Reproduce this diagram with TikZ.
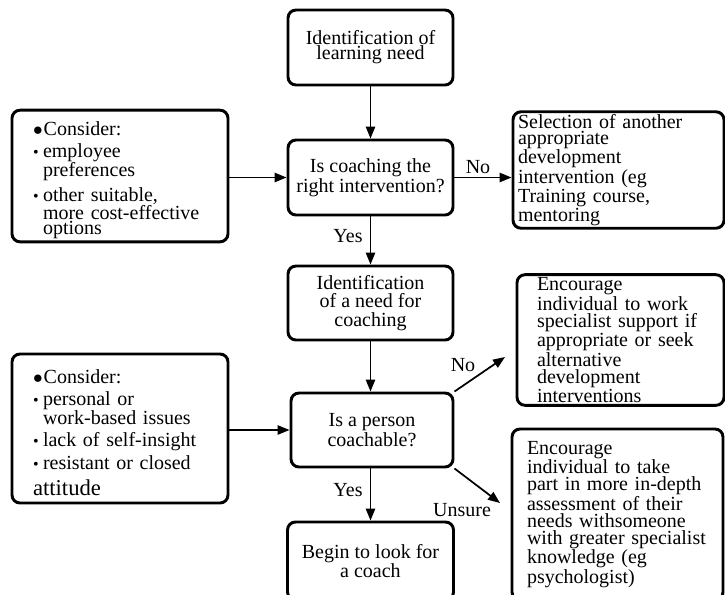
\documentclass[tikz,border=0pt]{standalone}
\usepackage{fontspec}
\setmainfont{Liberation Serif}
\usepackage{tikz}
\usetikzlibrary{arrows.meta}

\newcommand{\bigbul}{\makebox[8pt][l]{$\bullet$}}
\newcommand{\bul}{\makebox[7.5pt][l]{\fontsize{12}{12}\selectfont\textbullet}}
\newcommand{\ind}{\hspace*{7.5pt}}

\begin{document}
\begin{tikzpicture}[
    x=0.75pt, y=-0.75pt,
    flowbox/.style={draw, line width=2.2pt, rounded corners=6pt, align=center,
        font=\fontsize{15}{12}\selectfont, inner sep=2pt},
    sidebox/.style={draw, line width=2.2pt, rounded corners=6pt, align=left,
        font=\fontsize{15}{12.75}\selectfont, inner ysep=2pt},
    lbl/.style={font=\fontsize{15}{15}\selectfont, inner sep=0pt},
    arr/.style={-{Triangle[length=9pt,width=7pt]}, line width=1.3pt}
]
    \useasboundingbox (0,0) rectangle (725,594);
    \clip (0,0) rectangle (725,594);

    % middle column
    \node[flowbox, font=\fontsize{15}{11.25}\selectfont,
        minimum width=123.75pt, minimum height=56.25pt]
        (need) at (370.5,47.5) {Identification of\\learning need};
    \node[flowbox, font=\fontsize{15}{11.5}\selectfont,
        minimum width=123.75pt, minimum height=56.25pt]
        (right) at (370.5,177.5) {Is coaching the\\right intervention?};
    \node[flowbox, font=\fontsize{15}{14}\selectfont,
        minimum width=123.75pt, minimum height=55.5pt]
        (needcoach) at (370.5,303) {Identification\\of a need for\\coaching};
    \node[flowbox, minimum width=121.5pt, minimum height=55.5pt]
        (coachable) at (372,430) {Is a person\\coachable?};
    \node[flowbox, minimum width=124.5pt, minimum height=58.5pt]
        (coach) at (370.5,561) {Begin to look for\\a coach};

    % left column
    \node[sidebox, font=\fontsize{15}{11.25}\selectfont, inner xsep=15.75pt,
        text width=130.5pt, minimum height=96pt] (consider1) at (120,176)
        {\rule{0pt}{17pt}\bigbul Consider:\\[5pt]
         \bul employee\\ \ind preferences\\[3.75pt]
         \bul other suitable,\\ \ind more cost-effective\\ \ind options};
    \node[sidebox, font=\fontsize{15}{10.5}\selectfont, inner xsep=15.75pt,
        text width=130.5pt, minimum height=111.75pt] (consider2) at (120,428.5)
        {\rule{0pt}{17pt}\bigbul Consider:\\[4.5pt]
         \bul personal or\\ \ind work-based issues\\[4.5pt]
         \bul lack of self-insight\\[3pt]
         \bul resistant or closed\\[6.5pt]
         {\fontsize{17}{17}\selectfont attitude}};

    % right column
    \node[sidebox, font=\fontsize{15}{12}\selectfont, inner xsep=3.75pt,
        text width=150.75pt, minimum height=87pt] (other) at (618.5,170)
        {Selection of another\\appropriate\\development\\intervention (eg\\Training course,\\mentoring};
    \node[sidebox, font=\fontsize{15}{13}\selectfont, inner xsep=15pt,
        text width=125.25pt, minimum height=97.5pt] (support) at (620.5,340)
        {Encourage\\individual to work\\specialist support if\\appropriate or seek\\alternative\\development\\interventions};
    \node[sidebox, inner xsep=11.25pt, text width=135.75pt,
        minimum height=128.25pt] (assess) at (617.5,514.5)
        {Encourage\\individual to take\\part in more in-depth\\assessment of their\\needs withsomeone\\with greater specialist\\knowledge (eg\\psychologist)};

    % labels
    \node[lbl] (yes1) at (348,236) {Yes};
    \node[lbl] (no1) at (478,167) {No};
    \node[lbl] (no2) at (463,365) {No};
    \node[lbl] (yes2) at (348,490) {Yes};
    \node[lbl] (unsure) at (462,510) {Unsure};

    \coordinate (noend) at (505,357);
    \coordinate (unsureend) at (500,503);

    % arrows
    \draw[arr] (need.south) -- (need.south |- right.north);
    \draw[arr] (right.south) -- (right.south |- needcoach.north);
    \draw[arr] (needcoach.south) -- (needcoach.south |- coachable.north);
    \draw[arr] (coach.north |- coachable.south) -- (coach.north);
    \draw[arr] (consider1.east |- right.west) -- (right.west);
    \draw[arr] (consider2.east |- coachable.west) -- (coachable.west);
    \draw[arr] (right.east) -- (right.east -| other.west);
    \draw[arr] (coachable.north east) -- (noend);
    \draw[arr] (coachable.south east) -- (unsureend);
\end{tikzpicture}
\end{document}
